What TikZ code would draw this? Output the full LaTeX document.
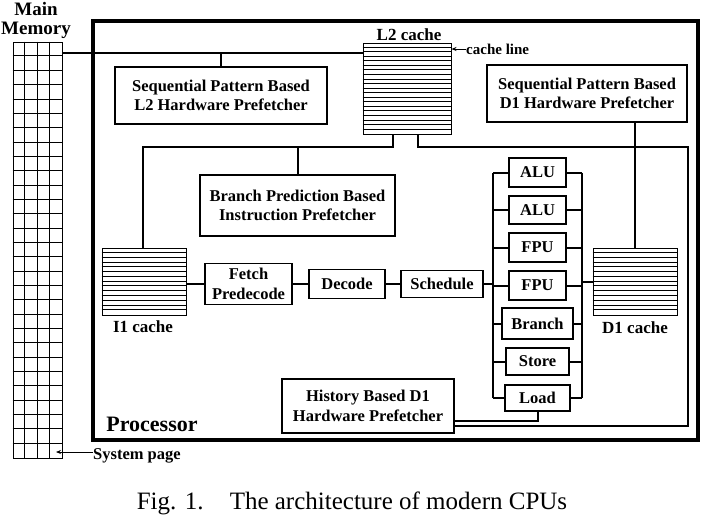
\documentclass[tikz,border=0pt]{standalone}
\usepackage{fontspec}
\setmainfont{Liberation Serif}
\usetikzlibrary{arrows.meta}

\newcommand\boxfont{\fontsize{16.5}{19.5}\selectfont\bfseries}
\newcommand\lblfont{\fontsize{17}{19}\selectfont\bfseries}

\begin{document}
\begin{tikzpicture}[x=1pt,y=-1pt,
    unit/.style={draw,line width=1.8pt,inner sep=0pt,align=center,font=\boxfont},
    cache/.style={draw,line width=1pt,inner sep=0pt,minimum width=84pt,minimum height=67pt},
    wire/.style={line width=2pt},
    lbl/.style={inner sep=0pt,align=center,font=\lblfont},
    pointer/.style={line width=0.8pt,-{Stealth[length=5pt,width=4pt]}}]
    \useasboundingbox (0,0) rectangle (704,520);

    % processor outline
    \draw[line width=3.5pt] (93,21) rectangle (698,440);
    \node[lbl,font=\fontsize{22}{24}\selectfont\bfseries] (proc) at (152,424) {Processor};

    % main memory
    \node[draw,line width=0.9pt,inner sep=0pt,minimum width=49pt,minimum height=416pt] (mem) at (37.5,250) {};
    \foreach \r in {1,...,28}
        \draw[line width=0.8pt] (mem.north west) ++(0,\r*14.345) -- ++(49,0);
    \foreach \c in {1,2,3}
        \draw[line width=0.8pt] (mem.north west) ++(\c*12.25,0) -- ++(0,416);
    \node[lbl,font=\fontsize{19}{19}\selectfont\bfseries] (memlbl) at (36,20) {Main\\Memory};

    % caches
    \node[cache,minimum width=88pt,minimum height=91pt] (l2) at (407,88.5) {};
    \foreach \r in {1,...,19}
        \draw[line width=0.7pt] (l2.north west) ++(0,\r*4.55) -- ++(88,0);
    \node[cache] (i1) at (144,281.5) {};
    \node[cache] (d1) at (635,281.5) {};
    \foreach \r in {1,...,13} {
        \draw[line width=0.7pt] (i1.north west) ++(0,\r*4.786) -- ++(84,0);
        \draw[line width=0.7pt] (d1.north west) ++(0,\r*4.786) -- ++(84,0);
    }
    \node[lbl] (l2lbl) at (409,35) {L2 cache};
    \node[lbl] (i1lbl) at (143,327) {I1 cache};
    \node[lbl] (d1lbl) at (635,328) {D1 cache};

    % prefetchers
    \node[unit,minimum width=212pt,minimum height=57pt] (l2pf) at (221,95.5) {Sequential Pattern Based\\L2 Hardware Prefetcher};
    \node[unit,minimum width=200pt,minimum height=57pt] (d1pf) at (587,93.5) {Sequential Pattern Based\\D1 Hardware Prefetcher};
    \node[unit,minimum width=195pt,minimum height=61pt] (bpf) at (297.5,205.5) {Branch Prediction Based\\Instruction Prefetcher};
    \node[unit,minimum width=172pt,minimum height=54pt] (hist) at (368,406) {History Based D1\\Hardware Prefetcher};

    % pipeline
    \node[unit,minimum width=87pt,minimum height=41pt] (fetch) at (248.5,284) {Fetch\\Predecode};
    \node[unit,minimum width=76pt,minimum height=29pt] (decode) at (347,284) {Decode};
    \node[unit,minimum width=82pt,minimum height=27pt] (sched) at (442,284) {Schedule};

    % execution units
    \node[unit,minimum width=57pt,minimum height=29pt] (alua) at (537.5,172.5) {ALU};
    \node[unit,minimum width=57pt,minimum height=28pt] (alub) at (537.5,210) {ALU};
    \node[unit,minimum width=57pt,minimum height=29pt] (fpua) at (537.5,247.5) {FPU};
    \node[unit,minimum width=57pt,minimum height=29pt] (fpub) at (537.5,285.5) {FPU};
    \node[unit,minimum width=71pt,minimum height=31pt] (branch) at (537.5,323.5) {Branch};
    \node[unit,minimum width=63pt,minimum height=27pt] (store) at (537.5,361.5) {Store};
    \node[unit,minimum width=65pt,minimum height=26pt] (load) at (537.5,398) {Load};

    \coordinate (busltop) at (493,172.5);
    \coordinate (buslbot) at (493,398);
    \coordinate (busrtop) at (582,172.5);
    \coordinate (busrbot) at (582,398);
    \draw[wire] (busltop) -- (buslbot);
    \draw[wire] (busrtop) -- (busrbot);
    \foreach \u in {alua,alub,fpua,fpub,branch,store,load} {
        \draw[wire] (\u.west) -- (\u.west -| busltop);
        \draw[wire] (\u.east) -- (\u.east -| busrtop);
    }

    % wires
    \draw[wire] (mem.east |- 0,53) -- (l2.west |- 0,53);
    \draw[wire] (l2pf.north) -- (l2pf.north |- 0,53);
    \draw[wire] (l2.south -| 393,0) |- (143,147) -- (i1.north -| 143,0);
    \draw[wire] (bpf.north) -- (bpf.north |- 0,147);
    \draw[wire] (l2.south -| 418,0) |- (688,147) |- (hist.east |- 0,426);
    \draw[wire] (load.south) |- (hist.east |- 0,421);
    \draw[wire] (d1pf.south -| d1.north) -- (d1.north);
    \draw[wire] (i1.east |- fetch.west) -- (fetch.west);
    \draw[wire] (fetch.east) -- (decode.west);
    \draw[wire] (decode.east) -- (sched.west);
    \draw[wire] (sched.east) -- (sched.east -| busltop);
    \draw[wire] (d1.west |- 0,282) -- (busrtop |- 0,282);

    % pointers
    \node[lbl,anchor=west,font=\fontsize{15}{17}\selectfont\bfseries] (cl) at (466,49) {cache line};
    \draw[pointer] (cl.west) -- (l2.east |- cl.west);
    \node[lbl,anchor=base west,font=\fontsize{16.5}{19}\selectfont\bfseries] (sp) at (93,459) {System page};
    \coordinate (sptip) at (56,452);
    \draw[pointer] (sp.west |- sptip) -- (sptip);

    % caption
    \node[inner sep=0pt,font=\fontsize{25}{27}\selectfont] (cap) at (352,503) {Fig. 1.\hspace{1.05em}The architecture of modern CPUs};
\end{tikzpicture}
\end{document}
